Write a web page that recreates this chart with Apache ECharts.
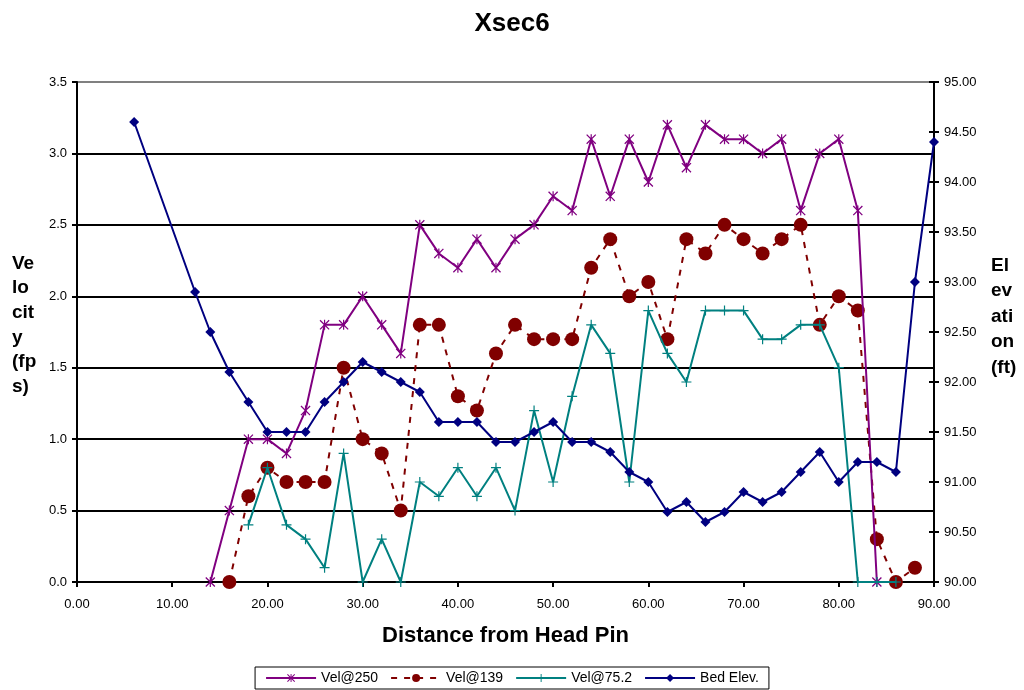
<!DOCTYPE html>
<html>
<head>
<meta charset="utf-8">
<script src="https://cdn.jsdelivr.net/npm/echarts@6/dist/echarts.min.js"></script>
<style>
  html, body { margin: 0; padding: 0; background: #fff; }
  #mainChart { width: 1024px; height: 690px; }
</style>
</head>
<body>
<div id="mainChart"></div>
<script>
// velocity data (distance in ft, velocity in fps)
var vel250X = [14, 16, 18, 20, 22, 24, 26, 28, 30, 32, 34, 36, 38, 40, 42, 44, 46, 48, 50, 52, 54, 56, 58, 60, 62, 64, 66, 68, 70, 72, 74, 76, 78, 80, 82, 84];
var vel250 = [0, 0.5, 1.0, 1.0, 0.9, 1.2, 1.8, 1.8, 2.0, 1.8, 1.6, 2.5, 2.3, 2.2, 2.4, 2.2, 2.4, 2.5, 2.7, 2.6, 3.1, 2.7, 3.1, 2.8, 3.2, 2.9, 3.2, 3.1, 3.1, 3.0, 3.1, 2.6, 3.0, 3.1, 2.6, 0];

var vel139X = [16, 18, 20, 22, 24, 26, 28, 30, 32, 34, 36, 38, 40, 42, 44, 46, 48, 50, 52, 54, 56, 58, 60, 62, 64, 66, 68, 70, 72, 74, 76, 78, 80, 82, 84, 86, 88];
var vel139 = [0, 0.6, 0.8, 0.7, 0.7, 0.7, 1.5, 1.0, 0.9, 0.5, 1.8, 1.8, 1.3, 1.2, 1.6, 1.8, 1.7, 1.7, 1.7, 2.2, 2.4, 2.0, 2.1, 1.7, 2.4, 2.3, 2.5, 2.4, 2.3, 2.4, 2.5, 1.8, 2.0, 1.9, 0.3, 0, 0.1];

var vel75X = [18, 20, 22, 24, 26, 28, 30, 32, 34, 36, 38, 40, 42, 44, 46, 48, 50, 52, 54, 56, 58, 60, 62, 64, 66, 68, 70, 72, 74, 76, 78, 80, 82, 84, 86];
var vel75 = [0.4, 0.8, 0.4, 0.3, 0.1, 0.9, 0, 0.3, 0, 0.7, 0.6, 0.8, 0.6, 0.8, 0.5, 1.2, 0.7, 1.3, 1.8, 1.6, 0.7, 1.9, 1.6, 1.4, 1.9, 1.9, 1.9, 1.7, 1.7, 1.8, 1.8, 1.5, 0, 0, 0];

// bed elevation (ft)
var bedX = [6, 12.4, 14, 16, 18, 20, 22, 24, 26, 28, 30, 32, 34, 36, 38, 40, 42, 44, 46, 48, 50, 52, 54, 56, 58, 60, 62, 64, 66, 68, 70, 72, 74, 76, 78, 80, 82, 84, 86, 88, 90];
var bedElev = [94.6, 92.9, 92.5, 92.1, 91.8, 91.5, 91.5, 91.5, 91.8, 92.0, 92.2, 92.1, 92.0, 91.9, 91.6, 91.6, 91.6, 91.4, 91.4, 91.5, 91.6, 91.4, 91.4, 91.3, 91.1, 91.0, 90.7, 90.8, 90.6, 90.7, 90.9, 90.8, 90.9, 91.1, 91.3, 91.0, 91.2, 91.2, 91.1, 93.0, 94.4];

var seriesNames = ['Vel@250', 'Vel@139', 'Vel@75.2', 'Bed Elev.'];
var leftNameLines = ['Ve', 'lo', 'cit', 'y', '(fp', 's)'];
var rightNameLines = ['El', 'ev', 'ati', 'on', '(ft)'];

function pairs(xs, ys) {
    var out = [];
    for (var i = 0; i < xs.length; i++) out.push([xs[i], ys[i]]);
    return out;
}

// asterisk and plus markers like the excel ones
var starPath = 'path://M4.4,0L5.6,0L5.6,10L4.4,10Z M0,0.9L0.9,0L10,9.1L9.1,10Z M9.1,0L10,0.9L0.9,10L0,9.1Z';
var plusPath = 'path://M4.4,0L5.6,0L5.6,10L4.4,10Z M0,4.4L10,4.4L10,5.6L0,5.6Z';

var font = 'Liberation Sans, Arial, sans-serif';

var myChart = echarts.init(document.getElementById('mainChart'));

var graphics = [];
leftNameLines.forEach(function (t, i) {
    graphics.push({
        type: 'text', left: 12, top: 254 + i * 24.6,
        style: { text: t, font: 'bold 19px ' + font, fill: '#000' }
    });
});
rightNameLines.forEach(function (t, i) {
    graphics.push({
        type: 'text', left: 991, top: 256 + i * 25.5,
        style: { text: t, font: 'bold 19px ' + font, fill: '#000' }
    });
});

myChart.setOption({
    animation: false,
    backgroundColor: '#fff',
    textStyle: { fontFamily: font },
    title: {
        text: 'Xsec6',
        left: 'center',
        top: 6,
        textStyle: { fontSize: 26, fontWeight: 'bold', color: '#000', fontFamily: font }
    },
    legend: {
        bottom: 1,
        left: 'center',
        data: seriesNames,
        itemWidth: 50,
        itemHeight: 10,
        itemGap: 12,
        padding: [4, 10],
        borderColor: '#000',
        borderWidth: 1,
        textStyle: { fontSize: 14, color: '#000', fontFamily: font }
    },
    grid: {
        left: 77,
        right: 90,
        top: 82,
        bottom: 108,
        show: true,
        borderColor: '#808080',
        borderWidth: 2
    },
    xAxis: {
        type: 'value',
        min: 0,
        max: 90,
        interval: 10,
        name: 'Distance from Head Pin',
        nameLocation: 'middle',
        nameGap: 43,
        nameTextStyle: { fontSize: 22, fontWeight: 'bold', color: '#000', fontFamily: font },
        axisLine: { show: true, lineStyle: { color: '#000', width: 2 } },
        axisTick: { show: true, length: 5, lineStyle: { color: '#000', width: 2 } },
        axisLabel: { fontSize: 13, color: '#000', margin: 16, formatter: function (v) { return v.toFixed(2); } },
        splitLine: { show: false }
    },
    yAxis: [{
        type: 'value',
        min: 0,
        max: 3.5,
        interval: 0.5,
        position: 'left',
        axisLine: { show: true, lineStyle: { color: '#000', width: 2 } },
        axisTick: { show: true, length: 5, lineStyle: { color: '#000', width: 2 } },
        axisLabel: { fontSize: 13, color: '#000', margin: 10, formatter: function (v) { return v.toFixed(1); } },
        // last gridline sits on the grey plot border
        splitLine: { show: true, lineStyle: { color: ['#000', '#000', '#000', '#000', '#000', '#000', '#000', '#808080'], width: 2 } }
    }, {
        type: 'value',
        min: 90,
        max: 95,
        interval: 0.5,
        position: 'right',
        axisLine: { show: true, lineStyle: { color: '#000', width: 2 } },
        axisTick: { show: true, length: 5, lineStyle: { color: '#000', width: 2 } },
        axisLabel: { fontSize: 13, color: '#000', margin: 10, formatter: function (v) { return v.toFixed(2); } },
        splitLine: { show: false }
    }, {
        // inner half of the crossing ticks on the right axis
        type: 'value',
        min: 90,
        max: 95,
        interval: 0.5,
        position: 'right',
        axisLine: { show: false },
        axisTick: { show: true, inside: true, length: 5, lineStyle: { color: '#000', width: 2 } },
        axisLabel: { show: false },
        splitLine: { show: false }
    }],
    graphic: graphics,
    series: [{
        name: 'Vel@250',
        type: 'line',
        yAxisIndex: 0,
        data: pairs(vel250X, vel250),
        symbol: starPath,
        symbolSize: 10,
        color: '#800080',
        lineStyle: { color: '#800080', width: 2 },
        itemStyle: { color: '#800080' },
        z: 4
    }, {
        name: 'Vel@139',
        type: 'line',
        yAxisIndex: 0,
        data: pairs(vel139X, vel139),
        symbol: 'circle',
        symbolSize: 14,
        color: '#800000',
        lineStyle: { color: '#800000', width: 2, type: [6, 7] },
        itemStyle: { color: '#800000' },
        z: 3
    }, {
        name: 'Vel@75.2',
        type: 'line',
        yAxisIndex: 0,
        data: pairs(vel75X, vel75),
        symbol: plusPath,
        symbolSize: 10,
        color: '#008080',
        lineStyle: { color: '#008080', width: 2 },
        itemStyle: { color: '#008080' },
        z: 5
    }, {
        name: 'Bed Elev.',
        type: 'line',
        yAxisIndex: 1,
        data: pairs(bedX, bedElev),
        symbol: 'diamond',
        symbolSize: 10,
        color: '#000080',
        lineStyle: { color: '#000080', width: 2 },
        itemStyle: { color: '#000080' },
        z: 6
    }]
});
</script>
</body>
</html>
